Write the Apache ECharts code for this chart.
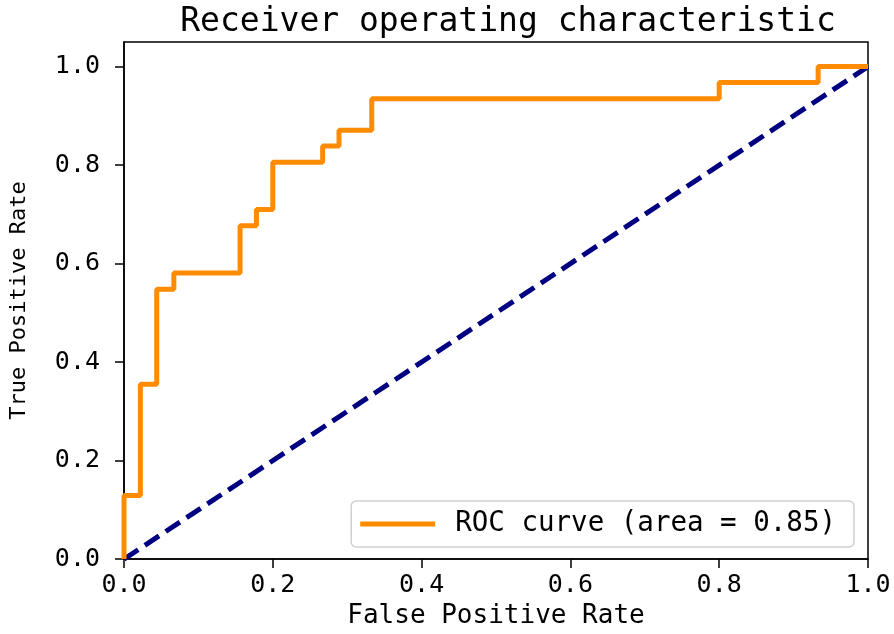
<!DOCTYPE html>
<html>
<head>
<meta charset="utf-8">
<script src="https://cdn.jsdelivr.net/npm/echarts@6/dist/echarts.min.js"></script>
<style>
  html, body { margin: 0; padding: 0; background: #fff; }
  #main { width: 894px; height: 634px; }
</style>
</head>
<body>
<div id="main"></div>
<script>
// ROC 曲线数据（从图上读取的拐点）
var fpr = [0, 0, 0.022, 0.022, 0.044, 0.044, 0.067, 0.067, 0.156, 0.156, 0.178, 0.178, 0.2, 0.2,
           0.267, 0.267, 0.289, 0.289, 0.333, 0.333, 0.8, 0.8, 0.933, 0.933, 1];
var tpr = [0, 0.129, 0.129, 0.355, 0.355, 0.548, 0.548, 0.581, 0.581, 0.677, 0.677, 0.71, 0.71, 0.806,
           0.806, 0.839, 0.839, 0.871, 0.871, 0.935, 0.935, 0.968, 0.968, 1, 1];
var diagX = [0, 1];
var diagY = [0, 1];
var tickValues = [0, 0.2, 0.4, 0.6, 0.8, 1.0];
var rocName = 'ROC curve (area = 0.85)';

var mono = '"DejaVu Sans Mono", monospace';

function pairs(xs, ys) {
  return xs.map(function (x, i) { return [x, ys[i]]; });
}

var myChart = echarts.init(document.getElementById('main'));

var option = {
  animation: false,
  title: {
    text: 'Receiver operating characteristic',
    left: 503,
    textAlign: 'center',
    top: 1,
    textStyle: { fontFamily: mono, fontSize: 33, fontWeight: 'normal', color: '#000' }
  },
  legend: {
    data: [rocName],
    right: 40,
    bottom: 87,
    itemWidth: 75,
    itemHeight: 5,
    padding: [9, 18, 9, 9],
    backgroundColor: '#fff',
    borderColor: '#d0d0d0',
    borderWidth: 1.5,
    borderRadius: 5,
    icon: 'rect',
    textStyle: { fontFamily: mono, fontSize: 27.5, color: '#000', padding: [0, 0, 0, 15] }
  },
  grid: {
    left: 122,
    right: 26,
    top: 42,
    bottom: 74,
    show: true,
    borderColor: '#000',
    borderWidth: 1.5,
    backgroundColor: '#fff'
  },
  xAxis: {
    type: 'value',
    min: 0,
    max: 1,
    interval: 0.2,
    name: 'False Positive Rate',
    nameLocation: 'middle',
    nameGap: 41,
    nameTextStyle: { fontFamily: mono, fontSize: 26, color: '#000' },
    axisLine: { show: true, lineStyle: { color: '#000', width: 1.5 } },
    axisTick: { show: true, length: 9, lineStyle: { color: '#000', width: 1.5 } },
    axisLabel: {
      fontFamily: mono, fontSize: 25, color: '#000', margin: 14,
      formatter: function (v) { return v.toFixed(1); }
    },
    splitLine: { show: false }
  },
  yAxis: {
    type: 'value',
    min: 0,
    max: 1.05,
    name: 'True Positive Rate',
    nameLocation: 'middle',
    nameGap: 94,
    nameTextStyle: { fontFamily: mono, fontSize: 22, color: '#000' },
    axisLine: { show: true, lineStyle: { color: '#000', width: 1.5 } },
    axisTick: { show: true, length: 9, customValues: tickValues, lineStyle: { color: '#000', width: 1.5 } },
    axisLabel: {
      fontFamily: mono, fontSize: 25, color: '#000', margin: 24,
      customValues: tickValues,
      formatter: function (v) { return v.toFixed(1); }
    },
    splitLine: { show: false }
  },
  series: [
    {
      name: rocName,
      type: 'line',
      data: pairs(fpr, tpr),
      showSymbol: false,
      symbol: 'none',
      color: '#ff8c00',
      lineStyle: { color: '#ff8c00', width: 5 },
      z: 3
    },
    {
      name: 'diag',
      type: 'line',
      data: pairs(diagX, diagY),
      showSymbol: false,
      symbol: 'none',
      color: '#000080',
      lineStyle: { color: '#000080', width: 5, type: [17, 8] },
      z: 2
    }
  ]
};

myChart.setOption(option);
</script>
</body>
</html>
